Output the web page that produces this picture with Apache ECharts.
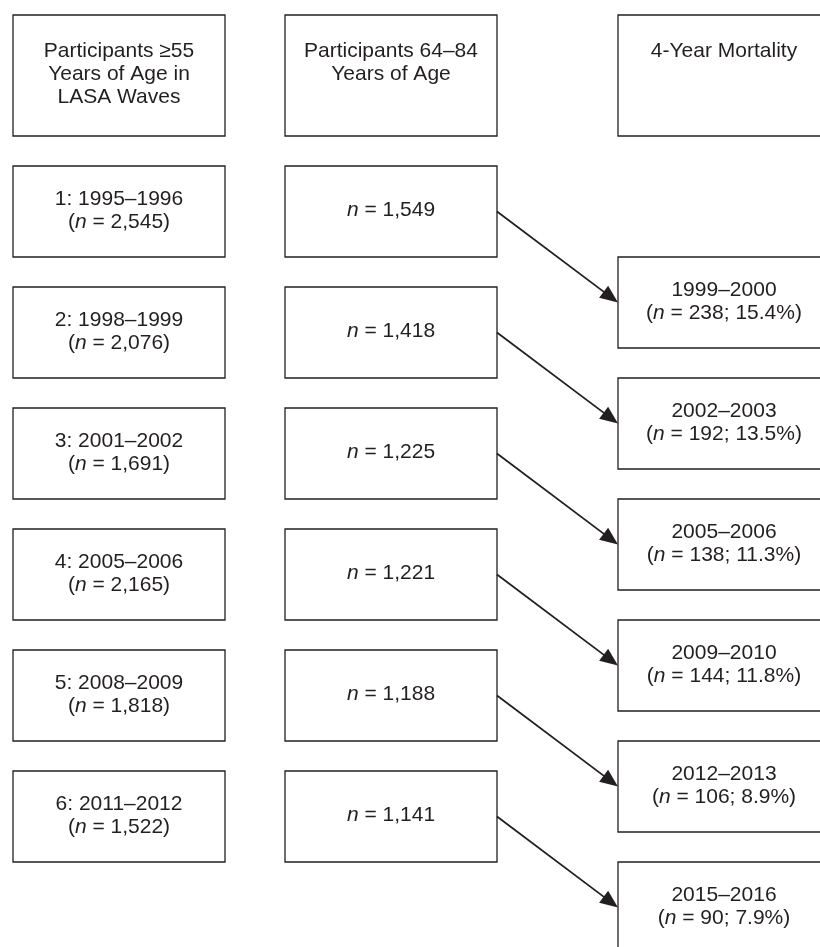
<!DOCTYPE html>
<html>
<head>
<meta charset="utf-8">
<script src="https://cdn.jsdelivr.net/npm/echarts@6/dist/echarts.min.js"></script>
<style>
html,body{margin:0;padding:0;background:#fff;}
#chart{width:820px;height:947px;}
</style>
</head>
<body>
<div id="chart"></div>
<script>
// ---- data ----
var headers = ['Participants \u226555\nYears of Age in\nLASA Waves', 'Participants 64\u201384\nYears of Age', '4-Year Mortality'];
var waves = ['1: 1995\u20131996', '2: 1998\u20131999', '3: 2001\u20132002', '4: 2005\u20132006', '5: 2008\u20132009', '6: 2011\u20132012'];
var waveN = ['2,545', '2,076', '1,691', '2,165', '1,818', '1,522'];
var ageN = ['1,549', '1,418', '1,225', '1,221', '1,188', '1,141'];
var mortYears = ['1999\u20132000', '2002\u20132003', '2005\u20132006', '2009\u20132010', '2012\u20132013', '2015\u20132016'];
var mortN = ['238', '192', '138', '144', '106', '90'];
var mortPct = ['15.4%', '13.5%', '11.3%', '11.8%', '8.9%', '7.9%'];

// ---- layout (data units of the hidden axes) ----
var L = {
  colLeft: [13, 285, 618], boxW: 212,
  headTop: 15, headH: 121, headTextTop: 40,
  rowTop: 166, rowStep: 121, boxH: 91, col3Shift: 91
};
var INK = '#231f20';
var FONT = '"Liberation Sans", Arial, Helvetica, sans-serif';
var FS = 21, LH = 23;

function boxTop(col, row) {
  if (row < 0) return L.headTop;
  return L.rowTop + L.rowStep * row + (col === 2 ? L.col3Shift : 0);
}

var nodes = [];
headers.forEach(function (h, c) { nodes.push({ col: c, row: -1, text: h }); });
waves.forEach(function (w, i) {
  nodes.push({ col: 0, row: i, text: w + '\n({i|n} = ' + waveN[i] + ')' });
  nodes.push({ col: 1, row: i, text: '{i|n} = ' + ageN[i] });
  nodes.push({ col: 2, row: i, text: mortYears[i] + '\n({i|n} = ' + mortN[i] + '; ' + mortPct[i] + ')' });
});

var chart = echarts.init(document.getElementById('chart'), null, { renderer: 'canvas' });

function richStyle() {
  return {
    i: { fontStyle: 'italic', fontSize: FS, fontFamily: FONT, fill: INK, lineHeight: LH }
  };
}

chart.setOption({
  animation: false,
  backgroundColor: '#fff',
  grid: { left: 0, right: 0, top: 0, bottom: 0 },
  xAxis: { type: 'value', min: 0, max: 820, show: false },
  yAxis: { type: 'value', min: 0, max: 947, inverse: true, show: false },
  series: [
    {
      type: 'custom',
      coordinateSystem: 'cartesian2d',
      clip: false,
      data: nodes.map(function (n, k) { return [n.col, n.row, k]; }),
      renderItem: function (params, api) {
        var n = nodes[api.value(2)];
        var x0 = L.colLeft[n.col], y0 = boxTop(n.col, n.row);
        var h = n.row < 0 ? L.headH : L.boxH;
        var p0 = api.coord([x0, y0]);
        var p1 = api.coord([x0 + L.boxW, y0 + h]);
        var cx = (p0[0] + p1[0]) / 2;
        var textEl;
        if (n.row < 0) {
          var ty = api.coord([0, L.headTextTop])[1];
          textEl = { type: 'text', style: { text: n.text, x: cx, y: ty, align: 'center', verticalAlign: 'top',
            fontSize: FS, fontFamily: FONT, fill: INK, lineHeight: LH } };
        } else {
          textEl = { type: 'text', style: { text: n.text, x: cx, y: (p0[1] + p1[1]) / 2 - 1, align: 'center', verticalAlign: 'middle',
            fontSize: FS, fontFamily: FONT, fill: INK, lineHeight: LH, rich: richStyle() } };
        }
        return {
          type: 'group',
          children: [
            { type: 'rect', shape: { x: p0[0], y: p0[1], width: p1[0] - p0[0], height: p1[1] - p0[1] },
              style: { fill: '#fff', stroke: INK, lineWidth: 1.3 } },
            textEl
          ]
        };
      }
    },
    {
      type: 'custom',
      coordinateSystem: 'cartesian2d',
      clip: false,
      data: ageN.map(function (v, i) { return [i]; }),
      renderItem: function (params, api) {
        var i = api.value(0);
        var a = api.coord([L.colLeft[1] + L.boxW, boxTop(1, i) + L.boxH / 2]);
        var b = api.coord([L.colLeft[2], boxTop(2, i) + L.boxH / 2]);
        var dx = b[0] - a[0], dy = b[1] - a[1];
        var len = Math.sqrt(dx * dx + dy * dy);
        var ux = dx / len, uy = dy / len;
        var hl = 18, hw = 7.5;
        var bx = b[0] - ux * hl, by = b[1] - uy * hl;
        return {
          type: 'group',
          children: [
            { type: 'line', shape: { x1: a[0], y1: a[1], x2: bx + ux * 2, y2: by + uy * 2 },
              style: { stroke: INK, lineWidth: 1.8 } },
            { type: 'polygon', shape: { points: [[b[0], b[1]], [bx - uy * hw, by + ux * hw], [bx + uy * hw, by - ux * hw]] },
              style: { fill: INK } }
          ]
        };
      }
    }
  ]
});
</script>
</body>
</html>
